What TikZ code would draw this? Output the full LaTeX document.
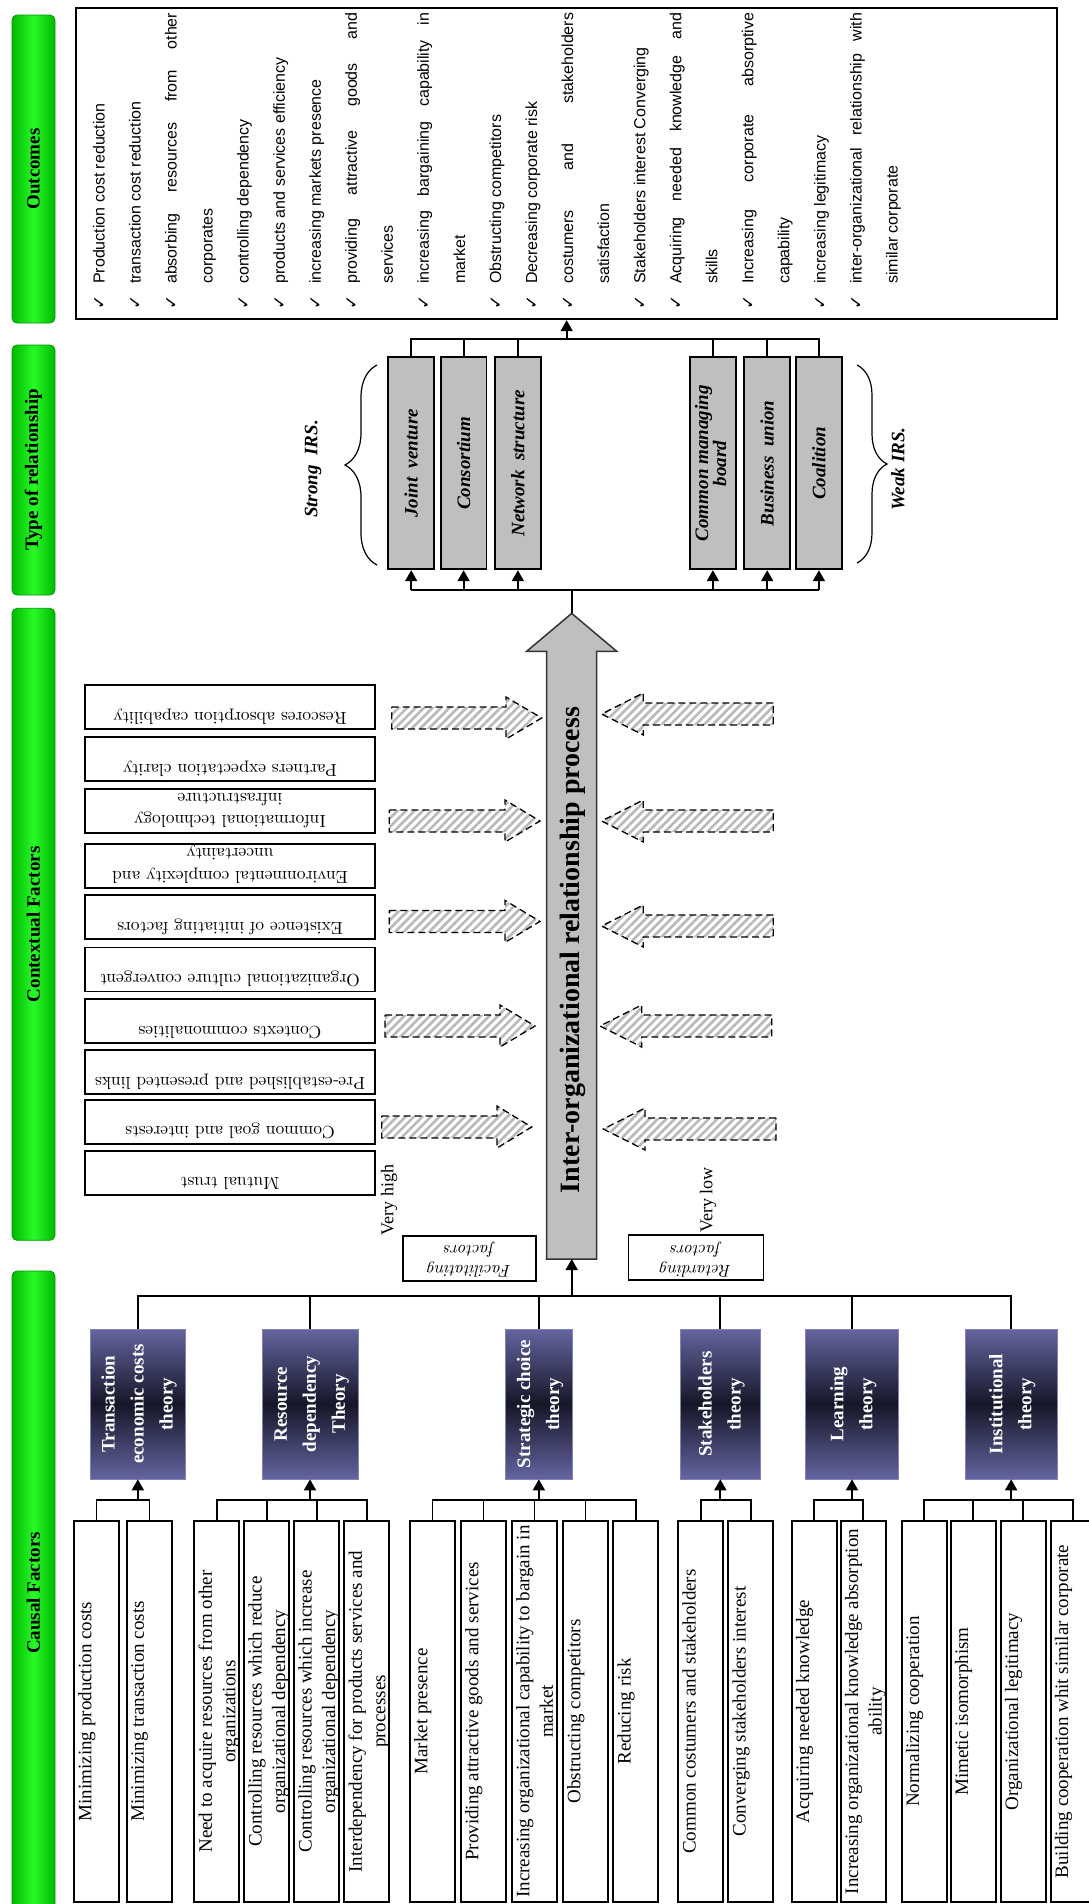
\documentclass[tikz,border=0pt]{standalone}
\usepackage{fontspec}
\usepackage{graphicx}
\usetikzlibrary{arrows.meta,decorations.pathreplacing,patterns.meta}
\newfontfamily\timesf{Liberation Serif}
\newfontfamily\arialf{Liberation Sans}
\newfontfamily\dejavuf{DejaVu Sans}
\definecolor{gMid}{RGB}{40,250,40}
\definecolor{gEdge}{RGB}{0,185,0}
\definecolor{gLine}{RGB}{0,150,0}
\definecolor{thL}{RGB}{100,100,160}
\definecolor{thD}{RGB}{22,22,40}
\newcommand\jline[1]{\hbox to 271pt{#1}}
\newcommand\ctx[1]{\scalebox{1.75}{\begin{tabular}{@{}c@{}}#1\end{tabular}}}
\newcommand\facx[1]{\scalebox{1.7}{\begin{tabular}{@{}c@{}}#1\end{tabular}}}
\newcommand\hatcharrow[4]{%
  \draw[hatch] (#1,#4-11) -- (#2,#4-11) -- (#2,#4-21) -- (#3,#4) -- (#2,#4+21) -- (#2,#4+11) -- (#1,#4+11) -- cycle;}
\tikzset{
 conn/.style={line width=1.8pt, draw=black},
 arr/.style={conn, -{Triangle[width=12pt,length=11pt]}},
 gbar/.style={rounded corners=5pt, left color=gEdge, right color=gEdge, middle color=gMid, draw=gLine, line width=0.8pt, minimum width=43pt, inner sep=0pt, font=\timesf\bfseries\fontsize{19}{22}\selectfont},
 leafbox/.style={draw, line width=2pt, minimum width=45pt, minimum height=381pt, inner sep=0pt},
 leaftext/.style={rotate=90, anchor=north, inner sep=0pt, align=center, font=\timesf\fontsize{19}{23.5}\selectfont},
 theory/.style={draw=thL!80, line width=0.6pt, top color=thL, bottom color=thL, middle color=thD, minimum height=150pt, inner sep=0pt, text=white, font=\timesf\bfseries\fontsize{19}{29}\selectfont},
 reltype/.style={draw, line width=1.8pt, fill=gray!50, minimum width=45.7pt, minimum height=212pt, inner sep=0pt, font=\timesf\bfseries\itshape\fontsize{19}{21}\selectfont},
 ctxbox/.style={draw, line width=1.8pt, minimum width=290pt, minimum height=44pt, inner sep=0pt},
 ctxtext/.style={rotate=180, anchor=north, inner sep=0pt, font=\fontsize{10}{13}\selectfont},
 facbox/.style={draw, line width=1.6pt, minimum height=45pt, inner sep=0pt},
 factext/.style={rotate=180, anchor=north, inner sep=0pt, font=\itshape\fontsize{10}{11.8}\selectfont},
 hatch/.style={draw=black, line width=1.3pt, dash pattern=on 7pt off 4pt, pattern={Lines[angle=45,distance=6pt,line width=2.6pt]}, pattern color=gray!55},
 otext/.style={rotate=90, anchor=base west, inner sep=0pt, font=\arialf\fontsize{16}{18}\selectfont},
 chk/.style={rotate=90, inner sep=0pt, font=\dejavuf\fontsize{17}{19}\selectfont},
 vlabel/.style={rotate=90, inner sep=0pt, font=\timesf\fontsize{18}{21}\selectfont},
 irs/.style={rotate=90, inner sep=0pt, font=\timesf\bfseries\itshape\fontsize{19}{22}\selectfont},
 bigarrow/.style={draw=black!80, line width=1.5pt, fill=gray!50},
 bracestyle/.style={decorate, line width=1.2pt},
}
\begin{document}
\begin{tikzpicture}[x=1pt,y=-1pt]
\fill[white] (0,0) rectangle (1088,1904);
\useasboundingbox (0,0) rectangle (1088,1904);

% ---------- green header bars ----------
\node[gbar, minimum height=308pt] (hOut) at (33.5,169) {\rotatebox{90}{Outcomes}};
\node[gbar, minimum height=250pt] (hType) at (33.5,470) {\rotatebox{90}{Type of relationship}};
\node[gbar, minimum height=632pt] (hCtx) at (33.5,924.3) {\rotatebox{90}{Contextual Factors}};
\node[gbar, minimum height=644pt] (hCau) at (33.5,1593) {\rotatebox{90}{Causal Factors}};

% ---------- outcomes ----------
\node[draw, line width=1.8pt, minimum width=981.3pt, minimum height=311.3pt, inner sep=0pt] (out) at (566.65,163.65) {};
\foreach \k/\txt in {0/{Production cost reduction},1/{transaction cost reduction},2/{\jline{absorbing\hfill resources\hfill from\hfill other}},3/{corporates},4/{controlling dependency},5/{products and services efficiency},6/{increasing markets presence},7/{\jline{providing\hfill attractive\hfill goods\hfill and}},8/{services},9/{\jline{increasing\hfill bargaining\hfill capability\hfill in}},10/{market},11/{Obstructing competitors},12/{Decreasing corporate risk},13/{\jline{costumers\hfill and\hfill stakeholders}},14/{satisfaction},15/{Stakeholders interest Converging},16/{\jline{Acquiring\hfill needed\hfill knowledge\hfill and}},17/{skills},18/{\jline{Increasing\hfill corporate\hfill absorptive}},19/{capability},20/{increasing legitimacy},21/{\jline{inter-organizational\hfill relationship\hfill with}},22/{similar corporate}}
  \node[otext] (o\k) at (104.5+36.05*\k,284) {\txt};
\foreach \k in {0,1,2,4,5,6,7,9,11,12,13,15,16,18,20,21}
  \node[chk] (ck\k) at (99.5+36.05*\k,302) {✓};

% ---------- type of relationship ----------
\node[reltype] (r1) at (411.2,463.3) {\rotatebox{90}{Joint\ \ venture}};
\node[reltype] (r2) at (463.6,463.3) {\rotatebox{90}{Consortium}};
\node[reltype] (r3) at (517.9,463.3) {\rotatebox{90}{Network\ \ structure}};
\node[reltype] (r4) at (712.9,463.3) {\rotatebox{90}{\begin{tabular}{@{}c@{}}Common managing\\[-3pt]board\end{tabular}}};
\node[reltype] (r5) at (767.2,463.3) {\rotatebox{90}{Business\ \ union}};
\node[reltype] (r6) at (818.9,463.3) {\rotatebox{90}{Coalition}};
\draw[bracestyle, decoration={brace, amplitude=32pt}] (377,565) -- (377,365);
\draw[bracestyle, decoration={brace, amplitude=30pt}] (857,365) -- (857,563);
\node[irs] (strong) at (313,469) {Strong\ \ IRS.};
\node[irs] (weak) at (898,469) {Weak IRS.};
\coordinate (tbus) at (0,339);
\coordinate (bbus) at (0,590);
\draw[conn] (r1.north) -- (r1.north |- tbus) -- (r6.north |- tbus) -- (r6.north);
\foreach \r in {r2,r3,r4,r5} \draw[conn] (\r.north) -- (\r.north |- tbus);
\draw[arr] (out.south |- tbus) -- (out.south);
\draw[conn] (r1.south |- bbus) -- (r6.south |- bbus);
\foreach \r in {r1,r2,r3,r4,r5,r6} \draw[arr] (\r.south |- bbus) -- (\r.south);

% ---------- contextual factors ----------
\node[ctxbox] (c1) at (230,707) {};
\node[ctxbox] (c2) at (230,758.8) {};
\node[ctxbox] (c3) at (230,810.6) {};
\node[ctxbox] (c4) at (230,865.8) {};
\node[ctxbox] (c5) at (230,917.2) {};
\node[ctxbox] (c6) at (230,969.4) {};
\node[ctxbox] (c7) at (230,1020.8) {};
\node[ctxbox] (c8) at (230,1071.8) {};
\node[ctxbox] (c9) at (230,1121.6) {};
\node[ctxbox] (c10) at (230,1172.6) {};
\node[ctxtext] (c1t) at ([yshift=1.5pt]c1.south) {\ctx{Rescores absorption capability}};
\node[ctxtext] (c2t) at ([yshift=1.5pt]c2.south) {\ctx{Partners expectation clarity}};
\node[ctxtext] (c3t) at ([yshift=1.5pt]c3.south) {\ctx{Informational technology\\infrastructure}};
\node[ctxtext] (c4t) at ([yshift=1.5pt]c4.south) {\ctx{Environmental complexity and\\uncertainty}};
\node[ctxtext] (c5t) at ([yshift=1.5pt]c5.south) {\ctx{Existence of initiating factors}};
\node[ctxtext] (c6t) at ([yshift=1.5pt]c6.south) {\ctx{Organizational culture convergent}};
\node[ctxtext] (c7t) at ([yshift=1.5pt]c7.south) {\ctx{Contexts commonalities}};
\node[ctxtext] (c8t) at ([yshift=1.5pt]c8.south) {\ctx{Pre-established and presented links}};
\node[ctxtext] (c9t) at ([yshift=1.5pt]c9.south) {\ctx{Common goal and interests}};
\node[ctxtext] (c10t) at ([yshift=1.5pt]c10.south) {\ctx{Mutual trust}};

\hatcharrow{391.7}{506}{541.7}{718}
\hatcharrow{389.3}{505}{540}{821}
\hatcharrow{389.3}{505}{540}{921.4}
\hatcharrow{385}{500}{535}{1026}
\hatcharrow{381.7}{497}{531.7}{1127}
\hatcharrow{773.3}{643.3}{601.7}{714}
\hatcharrow{773.3}{643.3}{601.7}{821}
\hatcharrow{773.3}{643.3}{601.7}{926}
\hatcharrow{771.7}{641.7}{600}{1026}
\hatcharrow{776}{645}{603.3}{1129}

% big process arrow
\coordinate (ioTip) at (571.7,613.4);
\coordinate (ioBase) at (571.7,1259);
\draw[bigarrow] (ioTip) -- (616.7,651.3) -- (596.7,651.3) -- (596.7,1259) -- (546.7,1259) -- (546.7,651.3) -- (526.7,651.3) -- cycle;
\node[rotate=90, inner sep=0pt, font=\timesf\bfseries\fontsize{28}{32}\selectfont] (iotext) at (572.5,950) {Inter-organizational relationship process};
\draw[conn] (ioTip) -- (ioTip |- bbus);

\node[vlabel] (vhigh) at (389,1200) {Very high};
\node[vlabel] (vlow) at (708,1200) {Very low};
\node[facbox, minimum width=133.3pt] (fac) at (469.35,1258.4) {};
\node[factext] (fact) at ([yshift=1.5pt]fac.south) {\facx{Facilitating\\factors}};
\node[facbox, minimum width=135pt] (ret) at (695.8,1257.5) {};
\node[factext] (rett) at ([yshift=1.5pt]ret.south) {\facx{Retarding\\factors}};

% ---------- causal factors: theories ----------
\node[theory, minimum width=94.3pt] (t1) at (137.85,1404) {\rotatebox{90}{\begin{tabular}{@{}c@{}}Transaction\\economic costs\\theory\end{tabular}}};
\node[theory, minimum width=96pt] (t2) at (310,1404) {\rotatebox{90}{\begin{tabular}{@{}c@{}}Resource\\dependency\\Theory\end{tabular}}};
\node[theory, minimum width=67.7pt] (t3) at (538.85,1404) {\rotatebox{90}{\begin{tabular}{@{}c@{}}Strategic choice\\theory\end{tabular}}};
\node[theory, minimum width=79.3pt] (t4) at (720.35,1404) {\rotatebox{90}{\begin{tabular}{@{}c@{}}Stakeholders\\theory\end{tabular}}};
\node[theory, minimum width=92.6pt] (t5) at (852,1404) {\rotatebox{90}{\begin{tabular}{@{}c@{}}Learning\\theory\end{tabular}}};
\node[theory, minimum width=92.3pt] (t6) at (1011.15,1404) {\rotatebox{90}{\begin{tabular}{@{}c@{}}Institutional\\theory\end{tabular}}};
\coordinate (mbus) at (0,1296);
\draw[conn] (t1.north) -- (t1.north |- mbus) -- (t6.north |- mbus) -- (t6.north);
\foreach \t in {t2,t3,t4,t5} \draw[conn] (\t.north) -- (\t.north |- mbus);
\draw[arr] (ioBase |- mbus) -- (ioBase);

% ---------- causal factors: leaves ----------
\foreach \n/\c in {l1/96.5,l2/149.5,l3/216.8,l4/266.8,l5/316.8,l6/366.8,l7/432.5,l8/483.5,l9/534.5,l10/585.5,l11/635.8,l12/700.8,l13/750.8,l14/814.2,l15/863.2,l16/924.2,l17/973.2,l18/1023.2,l19/1073.2}
  \node[leafbox] (\n) at (\c,1711.5) {};
\node[leaftext] (l1t) at ([xshift=5pt]l1.west) {Minimizing production costs};
\node[leaftext] (l2t) at ([xshift=5pt]l2.west) {Minimizing transaction costs};
\node[leaftext] (l3t) at ([xshift=5pt]l3.west) {Need to acquire resources from other\\organizations};
\node[leaftext] (l4t) at ([xshift=5pt]l4.west) {Controlling resources which reduce\\organizational dependency};
\node[leaftext] (l5t) at ([xshift=5pt]l5.west) {Controlling resources which increase\\organizational dependency};
\node[leaftext] (l6t) at ([xshift=5pt]l6.west) {Interdependency for products services and\\processes};
\node[leaftext] (l7t) at ([xshift=5pt]l7.west) {Market presence};
\node[leaftext] (l8t) at ([xshift=5pt]l8.west) {Providing attractive goods and services};
\node[leaftext] (l9t) at ([xshift=5pt]l9.west) {Increasing organizational capability to bargain in\\market};
\node[leaftext] (l10t) at ([xshift=5pt]l10.west) {Obstructing competitors};
\node[leaftext] (l11t) at ([xshift=5pt]l11.west) {Reducing risk};
\node[leaftext] (l12t) at ([xshift=5pt]l12.west) {Common costumers and stakeholders};
\node[leaftext] (l13t) at ([xshift=5pt]l13.west) {Converging stakeholders interest};
\node[leaftext] (l14t) at ([xshift=5pt]l14.west) {Acquiring needed knowledge};
\node[leaftext] (l15t) at ([xshift=5pt]l15.west) {Increasing organizational knowledge absorption\\ability};
\node[leaftext] (l16t) at ([xshift=5pt]l16.west) {Normalizing cooperation};
\node[leaftext] (l17t) at ([xshift=5pt]l17.west) {Mimetic isomorphism};
\node[leaftext] (l18t) at ([xshift=5pt]l18.west) {Organizational legitimacy};
\node[leaftext] (l19t) at ([xshift=5pt]l19.west) {Building cooperation whit similar corporate};

\coordinate (sbus) at (0,1500);
\draw[conn] (l1.north) -- (l1.north |- sbus) -- (l2.north |- sbus) -- (l2.north);
\draw[arr] (t1.south |- sbus) -- (t1.south);
\draw[conn] (l3.north) -- (l3.north |- sbus) -- (l6.north |- sbus) -- (l6.north);
\foreach \n in {l4,l5} \draw[conn] (\n.north) -- (\n.north |- sbus);
\draw[arr] (t2.south |- sbus) -- (t2.south);
\draw[conn] (l7.north) -- (l7.north |- sbus) -- (l11.north |- sbus) -- (l11.north);
\foreach \n in {l8,l9,l10} \draw[conn] (\n.north) -- (\n.north |- sbus);
\draw[arr] (t3.south |- sbus) -- (t3.south);
\draw[conn] (l12.north) -- (l12.north |- sbus) -- (l13.north |- sbus) -- (l13.north);
\draw[arr] (t4.south |- sbus) -- (t4.south);
\draw[conn] (l14.north) -- (l14.north |- sbus) -- (l15.north |- sbus) -- (l15.north);
\draw[arr] (t5.south |- sbus) -- (t5.south);
\draw[conn] (l16.north) -- (l16.north |- sbus) -- (l19.north |- sbus) -- (l19.north);
\foreach \n in {l17,l18} \draw[conn] (\n.north) -- (\n.north |- sbus);
\draw[arr] (t6.south |- sbus) -- (t6.south);
\end{tikzpicture}
\end{document}
